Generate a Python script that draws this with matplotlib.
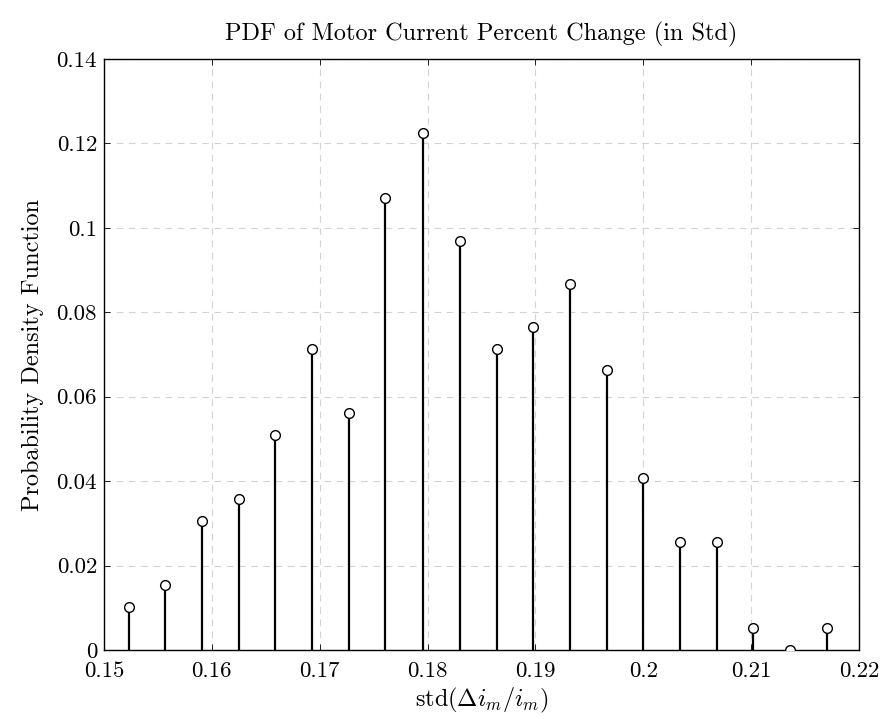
import matplotlib
matplotlib.use("Agg")
import matplotlib.pyplot as plt
from matplotlib.ticker import FuncFormatter

# Bin centres of std(delta i_m / i_m) and the estimated probability density
bin_centers = [0.1523, 0.1557, 0.1591, 0.1625, 0.1659, 0.1693, 0.1727, 0.1761,
               0.1796, 0.1830, 0.1864, 0.1898, 0.1932, 0.1966, 0.2000, 0.2034,
               0.2068, 0.2102, 0.2136, 0.2170]
pdf_values = [0.0102, 0.0153, 0.0306, 0.0357, 0.0510, 0.0714, 0.0561, 0.1071,
              0.1224, 0.0969, 0.0714, 0.0765, 0.0867, 0.0663, 0.0408, 0.0255,
              0.0255, 0.0051, 0.0000, 0.0051]

x_ticks = [0.15, 0.16, 0.17, 0.18, 0.19, 0.20, 0.21, 0.22]
y_ticks = [0, 0.02, 0.04, 0.06, 0.08, 0.10, 0.12, 0.14]

plt.rcParams["font.family"] = "serif"
plt.rcParams["font.serif"] = ["cmr10", "DejaVu Serif"]
plt.rcParams["mathtext.fontset"] = "cm"
plt.rcParams["axes.formatter.use_mathtext"] = True

fig = plt.figure(figsize=(8.85, 7.19), dpi=100)
ax = fig.add_axes([0.1175, 0.096, 0.8531, 0.822])

# Stem plot: black lines with open circle markers
markerline, stemlines, baseline = ax.stem(bin_centers, pdf_values, basefmt=" ")
plt.setp(stemlines, color="black", linewidth=1.6)
plt.setp(markerline, marker="o", markersize=7, markerfacecolor="white",
         markeredgecolor="black", markeredgewidth=1.0, linestyle="none",
         zorder=4)

ax.set_xlim(0.15, 0.22)
ax.set_ylim(0, 0.14)
ax.set_xticks(x_ticks)
ax.set_yticks(y_ticks)
fmt = FuncFormatter(lambda v, _: "%g" % round(v, 4))
ax.xaxis.set_major_formatter(fmt)
ax.yaxis.set_major_formatter(fmt)

ax.grid(True, color="#d3d3d3", linestyle=(0, (6, 5)), linewidth=0.8)
ax.set_axisbelow(True)
ax.tick_params(direction="in", top=True, right=True, length=4,
               labelsize=16.5, width=0.6)
ax.tick_params(axis="x", pad=8.5)
ax.tick_params(axis="y", pad=5)
for spine in ax.spines.values():
    spine.set_linewidth(1.0)

ax.set_xlabel(r"std$(\Delta i_m/i_m)$", fontsize=17.5, labelpad=3)
ax.set_ylabel("Probability Density Function", fontsize=17.5, labelpad=9)
ax.set_title("PDF of Motor Current Percent Change (in Std)", fontsize=17.5, pad=13)

fig.savefig("out.png", dpi=100)
